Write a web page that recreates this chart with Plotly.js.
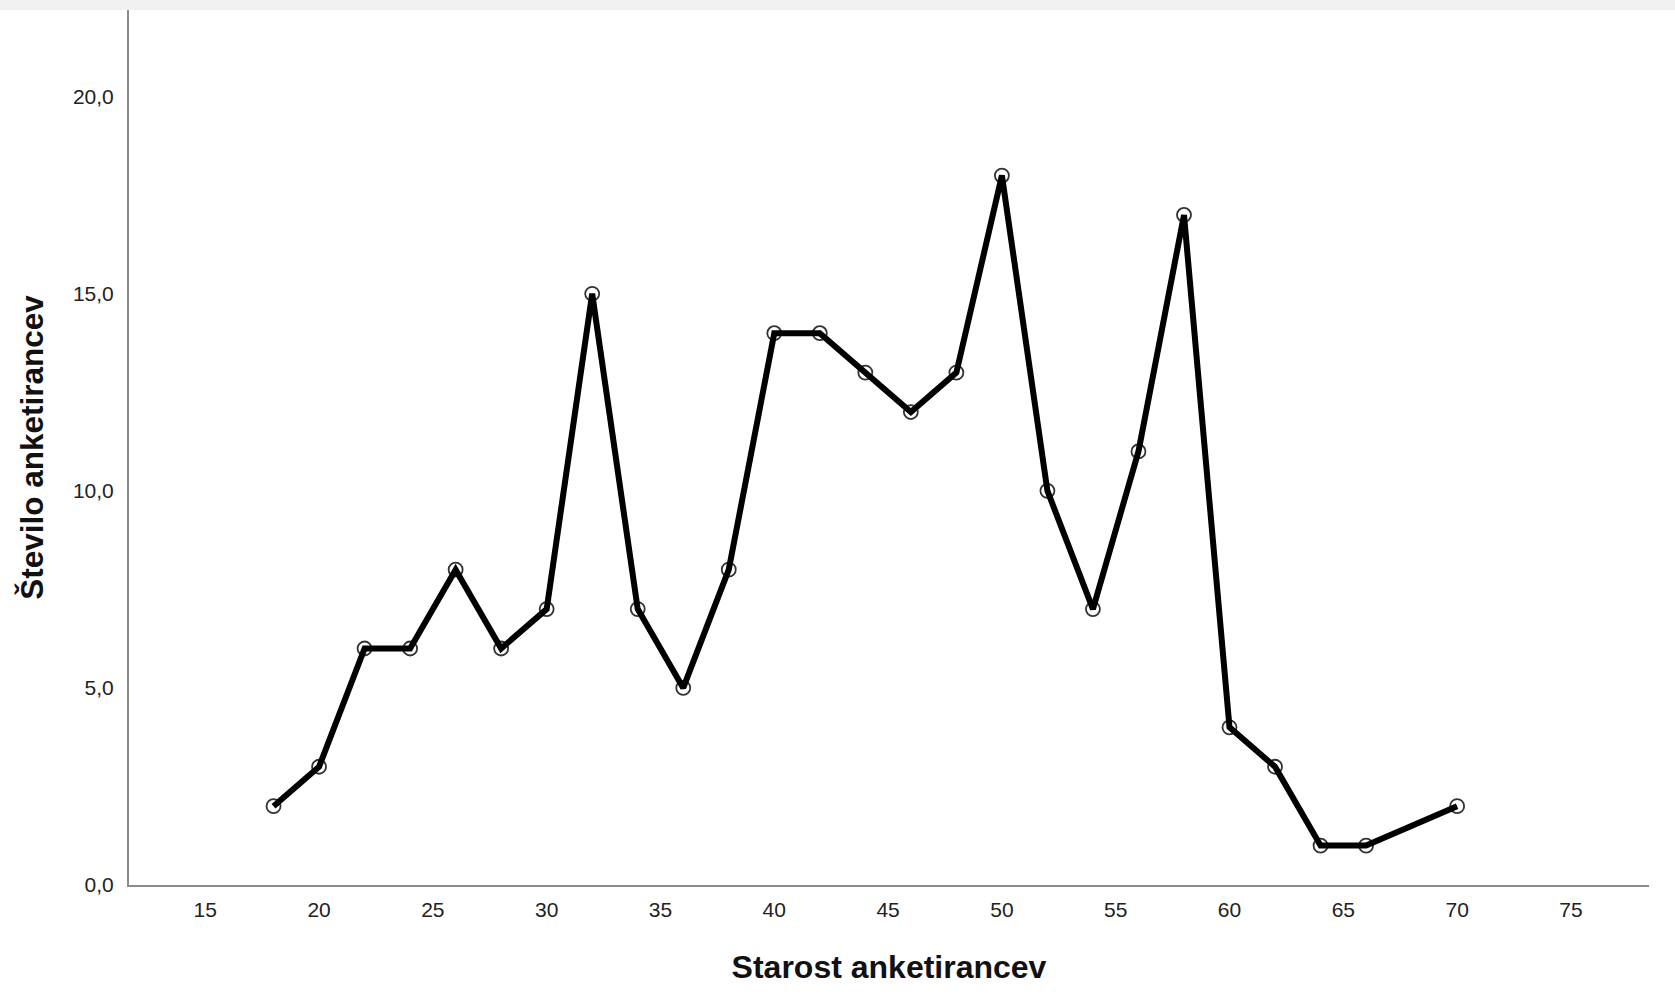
<!DOCTYPE html>
<html>
<head>
<meta charset="utf-8">
<script src="https://cdn.plot.ly/plotly-3.0.1.min.js"></script>
<style>
  html, body { margin: 0; padding: 0; background: #f0f0f0; }
  #chart { position: absolute; left: 0; top: 10px; width: 1675px; height: 998px; background: #ffffff; }
</style>
</head>
<body>
<div id="chart"></div>
<script>
const ages   = [18, 20, 22, 24, 26, 28, 30, 32, 34, 36, 38, 40, 42, 44, 46, 48, 50, 52, 54, 56, 58, 60, 62, 64, 66, 70];
const counts = [2, 3, 6, 6, 8, 6, 7, 15, 7, 5, 8, 14, 14, 13, 12, 13, 18, 10, 7, 11, 17, 4, 3, 1, 1, 2];

const xTickVals = [15, 20, 25, 30, 35, 40, 45, 50, 55, 60, 65, 70, 75];
const xTickText = ['15', '20', '25', '30', '35', '40', '45', '50', '55', '60', '65', '70', '75'];
const yTickVals = [0, 5, 10, 15, 20];
const yTickText = ['0,0', '5,0', '10,0', '15,0', '20,0'];

const xTitle = 'Starost anketirancev';
const yTitle = 'Število anketirancev';

const markerTrace = {
  x: ages, y: counts, type: 'scatter', mode: 'markers',
  marker: { symbol: 'circle-open', size: 14, color: '#333333', line: { width: 1.8, color: '#333333' } },
  hoverinfo: 'skip', showlegend: false
};
const lineTrace = {
  x: ages, y: counts, type: 'scatter', mode: 'lines',
  line: { color: '#000000', width: 6 },
  showlegend: false
};

const tickFont = { family: 'Liberation Sans, Arial, sans-serif', size: 21, color: '#222222' };
const xTitleFont = { family: 'Liberation Sans, Arial, sans-serif', size: 32, color: '#111111', weight: 'bold' };
const yTitleFont = { family: 'Liberation Sans, Arial, sans-serif', size: 31.5, color: '#111111', weight: 'bold' };

const layout = {
  width: 1675, height: 998,
  margin: { l: 129, r: 26, t: 0, b: 123 },
  paper_bgcolor: '#ffffff', plot_bgcolor: '#ffffff',
  showlegend: false,
  xaxis: {
    range: [11.65, 78.43], tickmode: 'array', tickvals: xTickVals, ticktext: xTickText,
    showgrid: false, zeroline: false, showline: true, linecolor: '#8c8c8c', linewidth: 2,
    ticks: '', tickfont: tickFont, ticklabelstandoff: 5,
    title: { text: '<b>' + xTitle + '</b>', font: xTitleFont, standoff: 35 }
  },
  yaxis: {
    range: [0, 22.2], tickmode: 'array', tickvals: yTickVals, ticktext: yTickText,
    showgrid: false, zeroline: false, showline: true, linecolor: '#8c8c8c', linewidth: 2,
    ticks: '', tickfont: tickFont, ticklabelstandoff: 9,
    title: { text: '<b>' + yTitle + '</b>', font: yTitleFont, standoff: 20 }
  }
};

Plotly.newPlot('chart', [markerTrace, lineTrace], layout, { displayModeBar: false, staticPlot: true });
</script>
</body>
</html>
